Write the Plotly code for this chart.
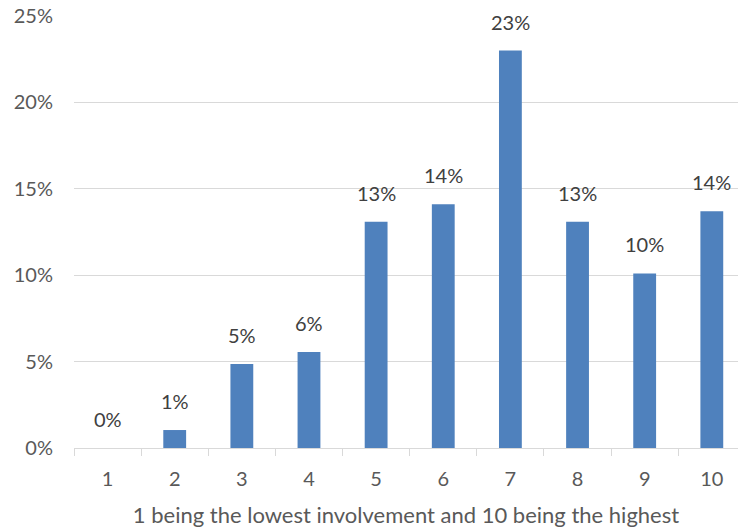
import plotly.graph_objects as go

categories = ["1", "2", "3", "4", "5", "6", "7", "8", "9", "10"]
values = [0.0, 0.0104, 0.0486, 0.0556, 0.131, 0.141, 0.230, 0.131, 0.101, 0.137]
y_ticks = [0, 0.05, 0.10, 0.15, 0.20, 0.25]
y_ticklabels = ["0%", "5%", "10%", "15%", "20%", "25%"]
x_title = "1 being the lowest involvement and 10 being the highest"

FONT = "Lato"
fig = go.Figure()
fig.add_trace(go.Bar(
    x=categories, y=values,
    marker=dict(color="#4F81BD", line=dict(width=0)),
    width=0.34,
    hoverinfo="skip",
))
for i, v in enumerate(values):
    fig.add_annotation(
        x=i, y=v, text=f"{v:.0%}", showarrow=False,
        yanchor="bottom", yshift=15,
        font=dict(family=FONT, size=20, color="#404040"),
    )

fig.update_layout(
    width=738, height=529,
    margin=dict(l=74, r=0, t=16, b=81),
    paper_bgcolor="white", plot_bgcolor="white",
    showlegend=False,
    font=dict(family=FONT, size=20, color="#595959"),
    xaxis=dict(
        type="category",
        range=[-0.5, 9.39],
        showgrid=False, showline=True, linecolor="#D9D9D9", linewidth=1,
        ticks="outside", ticklen=7, tickcolor="#D9D9D9",
        tickson="boundaries",
        ticklabelstandoff=13,
        tickfont=dict(family=FONT, size=20, color="#595959"),
        title=dict(text=x_title, font=dict(family=FONT, size=22, color="#595959"), standoff=18),
        zeroline=False, automargin=False,
    ),
    yaxis=dict(
        range=[0, 0.25],
        tickmode="array", tickvals=y_ticks, ticktext=y_ticklabels,
        showgrid=True, gridcolor="#D9D9D9", gridwidth=1,
        showline=False, zeroline=False,
        ticklabelstandoff=20,
        tickfont=dict(family=FONT, size=20, color="#595959"),
        automargin=False,
    ),
)

fig.write_html(
    "out.html",
    config={"displayModeBar": False},
    post_script="document.body.style.margin='0';document.body.style.overflow='hidden';",
)
